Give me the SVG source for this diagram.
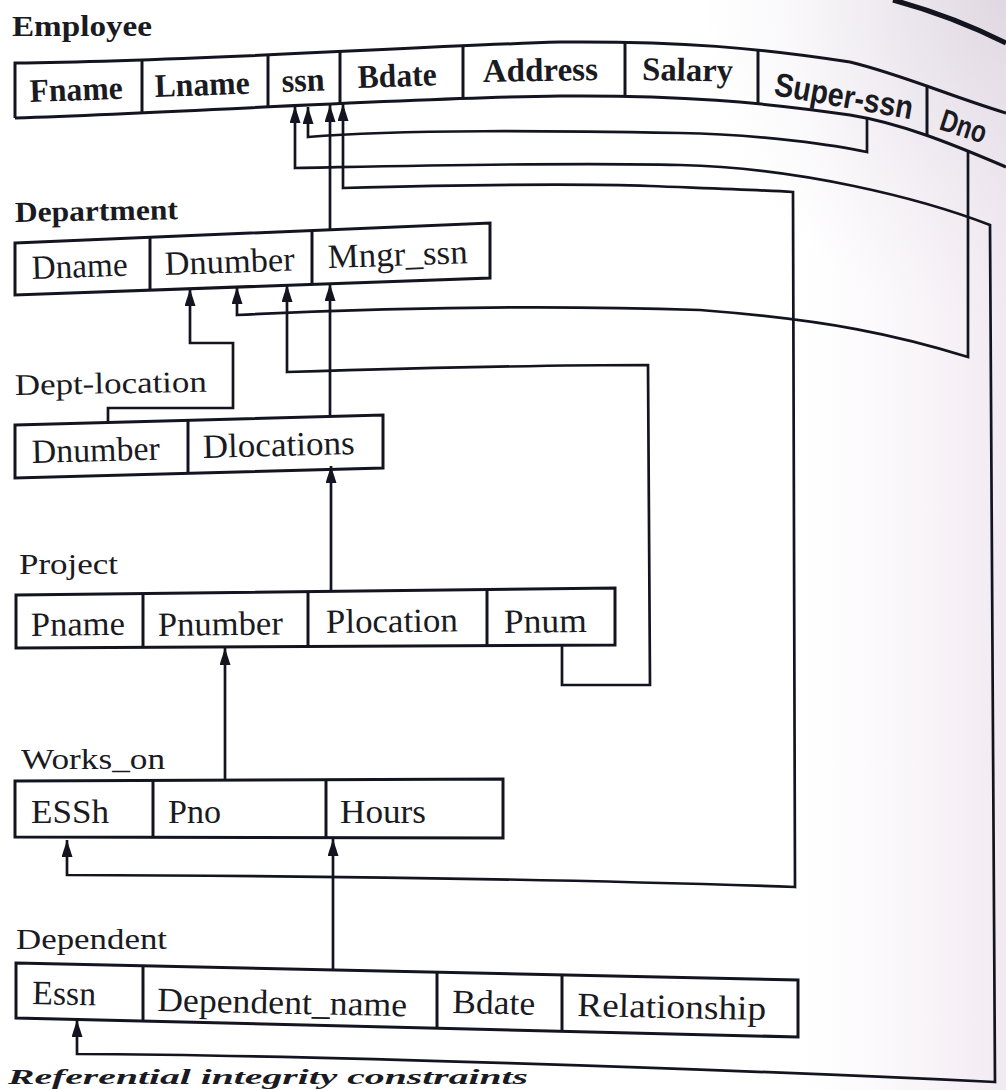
<svg xmlns="http://www.w3.org/2000/svg" width="1006" height="1090" viewBox="0 0 1006 1090">
  <style>
    .box { fill: none; stroke: #141420; stroke-width: 3; stroke-linejoin: miter; }
    .div { stroke: #141420; stroke-width: 3; }
    .wire { fill: none; stroke: #141420; stroke-width: 2.7; stroke-linejoin: miter; }
    .cell { font-family: "Liberation Serif", "Times New Roman", serif; font-size: 34px; fill: #1a1a22; }
    .cellb { font-family: "Liberation Serif", "Times New Roman", serif; font-size: 33px; font-weight: bold; fill: #1a1a22; }
    .cells { font-family: "Liberation Sans", Arial, sans-serif; font-weight: bold; fill: #1a1a22; }
    .title { font-family: "Liberation Serif", "Times New Roman", serif; font-size: 30px; fill: #1a1a22; }
    .titleb { font-family: "Liberation Serif", "Times New Roman", serif; font-size: 29px; font-weight: bold; fill: #1a1a22; }
    .caption { font-family: "Liberation Serif", "Times New Roman", serif; font-size: 22px; font-style: italic; font-weight: bold; fill: #1a1a22; }
  </style>
  <defs>
    <marker id="arrow" viewBox="0 0 17 11" refX="17" refY="5.5" markerWidth="17" markerHeight="11" markerUnits="userSpaceOnUse" orient="auto-start-reverse">
      <path d="M0,0 L17,5.5 L0,11 z" fill="#141420"/>
    </marker>
    <linearGradient id="pageShade" x1="0" y1="0" x2="1" y2="0">
      <stop offset="0.8" stop-color="#f6f0f6" stop-opacity="0"/>
      <stop offset="1" stop-color="#eee4ee" stop-opacity="0.8"/>
    </linearGradient>
    <radialGradient id="cornerShade" cx="1" cy="0" r="0.3">
      <stop offset="0" stop-color="#dcd5df" stop-opacity="0.85"/>
      <stop offset="1" stop-color="#ebe5ee" stop-opacity="0"/>
    </radialGradient>
  </defs>

  <!-- paper -->
  <rect x="0" y="0" width="1006" height="1090" fill="#ffffff"/>
  <rect x="0" y="0" width="1006" height="1090" fill="url(#pageShade)"/>
  <rect x="0" y="0" width="1006" height="1090" fill="url(#cornerShade)"/>
  <path d="M893,0 C930,10 970,25 1006,43" fill="none" stroke="#141420" stroke-width="5"/>

  <!-- Employee relation -->
  <g id="employee">
    <text class="titleb" x="12" y="36" textLength="140" lengthAdjust="spacingAndGlyphs">Employee</text>
    <path class="box" d="M15,118 L15,63 C200,61 400,47 560,42 C680,41 760,48 850,62 C900,74 950,96 1006,113"/>
    <path class="box" d="M15,118 C200,112 400,98 560,96 C680,95 760,102 850,115 C900,123 950,143 1006,167"/>
    <line class="div" x1="142" y1="60" x2="142" y2="113"/>
    <line class="div" x1="268" y1="55" x2="268" y2="107"/>
    <line class="div" x1="340" y1="51.5" x2="340" y2="103.5"/>
    <line class="div" x1="463" y1="46" x2="463" y2="98.5"/>
    <line class="div" x1="625" y1="42.3" x2="625" y2="96.4"/>
    <line class="div" x1="758" y1="50" x2="758" y2="103.6"/>
    <line class="div" x1="927" y1="86" x2="927" y2="135"/>
    <text class="cellb" x="30" y="102" transform="rotate(-2 30 102)" textLength="93" lengthAdjust="spacingAndGlyphs">Fname</text>
    <text class="cellb" x="155" y="97" transform="rotate(-2 155 97)" textLength="95" lengthAdjust="spacingAndGlyphs">Lname</text>
    <text class="cellb" x="282" y="92" transform="rotate(-2 282 92)" textLength="43" lengthAdjust="spacingAndGlyphs">ssn</text>
    <text class="cellb" x="358" y="88" transform="rotate(-2 358 88)" textLength="79" lengthAdjust="spacingAndGlyphs">Bdate</text>
    <text class="cellb" x="483" y="82" transform="rotate(-1 483 82)" textLength="115" lengthAdjust="spacingAndGlyphs">Address</text>
    <text class="cellb" x="642" y="80" transform="rotate(1 642 80)" textLength="91" lengthAdjust="spacingAndGlyphs">Salary</text>
    <text class="cells" x="773" y="95" font-size="33" transform="rotate(10 773 95)" textLength="140" lengthAdjust="spacingAndGlyphs">Super-ssn</text>
    <text class="cells" x="938" y="129" font-size="31" transform="rotate(18 938 129)" textLength="47" lengthAdjust="spacingAndGlyphs">Dno</text>
  </g>

  <!-- Department relation -->
  <g id="department">
    <text class="titleb" x="15" y="222" transform="rotate(-1 15 222)" textLength="163" lengthAdjust="spacingAndGlyphs">Department</text>
    <path class="box" d="M15,243 L490,223 L490,278 L15,295 Z"/>
    <line class="div" x1="150" y1="237.3" x2="150" y2="290.2"/>
    <line class="div" x1="312" y1="230.5" x2="312" y2="284.4"/>
    <text class="cell" x="32" y="279" transform="rotate(-2 32 279)" textLength="96" lengthAdjust="spacingAndGlyphs">Dname</text>
    <text class="cell" x="165" y="275" transform="rotate(-2 165 275)" textLength="130" lengthAdjust="spacingAndGlyphs">Dnumber</text>
    <text class="cell" x="328" y="268" transform="rotate(-2 328 268)" textLength="140" lengthAdjust="spacingAndGlyphs">Mngr_ssn</text>
  </g>

  <!-- Dept-location relation -->
  <g id="dept-location">
    <text class="title" x="15" y="395" transform="rotate(-1 15 395)" textLength="192" lengthAdjust="spacingAndGlyphs">Dept-location</text>
    <path class="box" d="M15,425 L383,415 L383,468 L15,478 Z"/>
    <line class="div" x1="188" y1="420.3" x2="188" y2="473.3"/>
    <text class="cell" x="32" y="463" transform="rotate(-1.5 32 463)" textLength="128" lengthAdjust="spacingAndGlyphs">Dnumber</text>
    <text class="cell" x="203" y="458" transform="rotate(-1.5 203 458)" textLength="152" lengthAdjust="spacingAndGlyphs">Dlocations</text>
  </g>

  <!-- Project relation -->
  <g id="project">
    <text class="title" x="19" y="574" textLength="99" lengthAdjust="spacingAndGlyphs">Project</text>
    <path class="box" d="M16,595 L615,588 L615,645 L16,648 Z"/>
    <line class="div" x1="143" y1="593.5" x2="143" y2="647.4"/>
    <line class="div" x1="308" y1="591.6" x2="308" y2="646.5"/>
    <line class="div" x1="487" y1="589.5" x2="487" y2="645.6"/>
    <text class="cell" x="31" y="636" transform="rotate(-0.7 31 636)" textLength="94" lengthAdjust="spacingAndGlyphs">Pname</text>
    <text class="cell" x="158" y="636" transform="rotate(-0.7 158 636)" textLength="125" lengthAdjust="spacingAndGlyphs">Pnumber</text>
    <text class="cell" x="326" y="633" transform="rotate(-0.7 326 633)" textLength="132" lengthAdjust="spacingAndGlyphs">Plocation</text>
    <text class="cell" x="504" y="633" transform="rotate(-0.7 504 633)" textLength="83" lengthAdjust="spacingAndGlyphs">Pnum</text>
  </g>

  <!-- Works_on relation -->
  <g id="works-on">
    <text class="title" x="21" y="769" textLength="144" lengthAdjust="spacingAndGlyphs">Works_on</text>
    <path class="box" d="M15,781 L503,779 L503,838 L15,837 Z"/>
    <line class="div" x1="153" y1="780.4" x2="153" y2="837.3"/>
    <line class="div" x1="326" y1="779.7" x2="326" y2="837.6"/>
    <text class="cell" x="31" y="823" textLength="78" lengthAdjust="spacingAndGlyphs">ESSh</text>
    <text class="cell" x="168" y="823" textLength="53" lengthAdjust="spacingAndGlyphs">Pno</text>
    <text class="cell" x="340" y="823" textLength="86" lengthAdjust="spacingAndGlyphs">Hours</text>
  </g>

  <!-- Dependent relation -->
  <g id="dependent">
    <text class="title" x="16" y="949" textLength="151" lengthAdjust="spacingAndGlyphs">Dependent</text>
    <path class="box" d="M16,963 L798,980 L798,1037 L16,1018 Z"/>
    <line class="div" x1="143" y1="965.8" x2="143" y2="1021.1"/>
    <line class="div" x1="437" y1="972.2" x2="437" y2="1028.2"/>
    <line class="div" x1="562" y1="974.9" x2="562" y2="1031.3"/>
    <text class="cell" x="32" y="1004" transform="rotate(1.2 32 1004)" textLength="64" lengthAdjust="spacingAndGlyphs">Essn</text>
    <text class="cell" x="157" y="1011" transform="rotate(1.2 157 1011)" textLength="250" lengthAdjust="spacingAndGlyphs">Dependent_name</text>
    <text class="cell" x="452" y="1013" transform="rotate(1.2 452 1013)" textLength="83" lengthAdjust="spacingAndGlyphs">Bdate</text>
    <text class="cell" x="577" y="1016" transform="rotate(1.2 577 1016)" textLength="189" lengthAdjust="spacingAndGlyphs">Relationship</text>
  </g>

  <!-- referential links -->
  <g id="connectors">
    <!-- Super-ssn to ssn -->
    <path class="wire" d="M867,118 L867,152 C840,146 760,134 680,133 C560,131 400,129 308,137 L308,107" marker-end="url(#arrow)"/>
    <!-- Dependent.Essn to Employee.ssn -->
    <path class="wire" d="M295,106 L295,168 C400,166 560,162 680,165 C800,168 920,198 990,225 L995,1082 C700,1068 300,1055 77,1054 L77,1020" marker-start="url(#arrow)" marker-end="url(#arrow)"/>
    <!-- Works_on.ESSh to Employee.ssn -->
    <path class="wire" d="M343,104 L343,188 C420,186 560,183 650,186 C700,188 760,190 793,192 L795,887 C650,882 400,876 67,875 L67,840" marker-start="url(#arrow)" marker-end="url(#arrow)"/>
    <!-- Mngr_ssn to ssn -->
    <path class="wire" d="M330,230 L330,105" marker-end="url(#arrow)"/>
    <!-- Dno to Dnumber -->
    <path class="wire" d="M968,150 L968,357 C900,336 830,320 700,310 C550,305 400,307 237,315 L237,287" marker-end="url(#arrow)"/>
    <!-- Pnum to Dnumber -->
    <path class="wire" d="M562,645 L562,685 L650,685 L648,365 C560,365 420,368 287,372 L287,285" marker-end="url(#arrow)"/>
    <!-- Dept-location.Dnumber to Dnumber -->
    <path class="wire" d="M108,421 L108,408 L233,408 L233,343 L190,343 L190,289" marker-end="url(#arrow)"/>
    <!-- Dlocations to Mngr_ssn -->
    <path class="wire" d="M330,416 L330,284" marker-end="url(#arrow)"/>
    <!-- Plocation to Dlocations -->
    <path class="wire" d="M331,591 L331,466" marker-end="url(#arrow)"/>
    <!-- Pno to Pnumber -->
    <path class="wire" d="M225,780 L225,648" marker-end="url(#arrow)"/>
    <!-- Dependent to Hours -->
    <path class="wire" d="M333,970 L333,839" marker-end="url(#arrow)"/>
  </g>

  <text class="caption" x="8" y="1084" textLength="520" lengthAdjust="spacingAndGlyphs">Referential integrity constraints</text>
</svg>
